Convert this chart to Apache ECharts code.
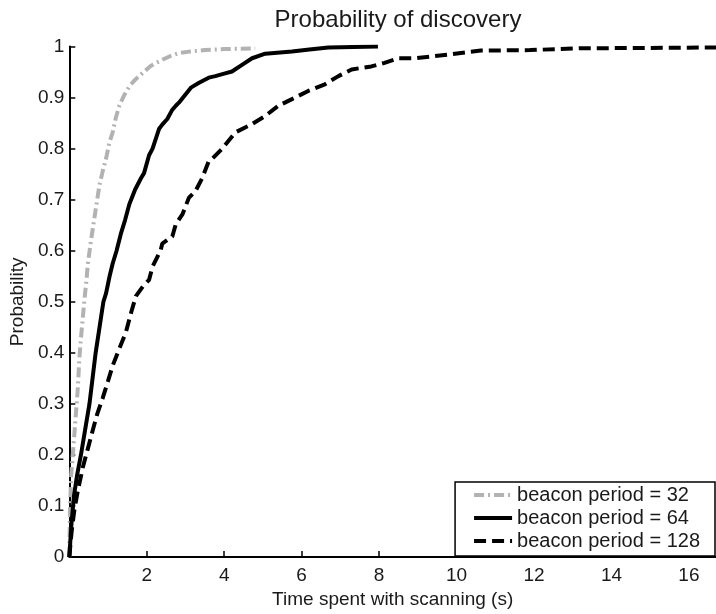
<!DOCTYPE html>
<html>
<head>
<meta charset="utf-8">
<script src="https://cdn.jsdelivr.net/npm/echarts@6/dist/echarts.min.js"></script>
<style>
html,body{margin:0;padding:0;background:#fff;}
#chart{width:716px;height:614px;}
</style>
</head>
<body>
<div id="chart"></div>
<script>
// ---- data ----
var seriesNames = ['beacon period = 32', 'beacon period = 64', 'beacon period = 128'];

var t32 = [0, 0.02, 0.05, 0.09, 0.13, 0.18, 0.22, 0.26, 0.30, 0.35, 0.39, 0.44, 0.48, 0.56, 0.65, 0.72, 0.78, 0.86, 0.95, 1.03, 1.12, 1.20, 1.29, 1.42, 1.55, 1.70, 1.89, 2.10, 2.40, 2.60, 2.83, 3.1, 3.5, 4.0, 4.8];
var p32 = [0, 0.1, 0.163, 0.2, 0.24, 0.29, 0.331, 0.39, 0.428, 0.47, 0.504, 0.54, 0.575, 0.62, 0.665, 0.70, 0.729, 0.755, 0.781, 0.81, 0.832, 0.86, 0.884, 0.905, 0.922, 0.935, 0.948, 0.962, 0.974, 0.981, 0.987, 0.99, 0.993, 0.995, 0.9965];

var t64 = [0, 0.05, 0.12, 0.2, 0.30, 0.41, 0.52, 0.60, 0.68, 0.78, 0.88, 0.95, 1.04, 1.12, 1.22, 1.33, 1.44, 1.55, 1.70, 1.85, 1.93, 2.06, 2.15, 2.32, 2.40, 2.53, 2.65, 2.75, 2.83, 3.0, 3.15, 3.35, 3.6, 3.77, 4.0, 4.20, 4.46, 4.72, 5.06, 5.75, 6.2, 6.69, 7.97];
var p64 = [0, 0.06, 0.12, 0.16, 0.2, 0.25, 0.3, 0.35, 0.4, 0.45, 0.5, 0.517, 0.55, 0.575, 0.6, 0.633, 0.66, 0.691, 0.72, 0.742, 0.752, 0.787, 0.80, 0.839, 0.847, 0.858, 0.875, 0.884, 0.890, 0.906, 0.92, 0.929, 0.939, 0.942, 0.947, 0.951, 0.964, 0.977, 0.986, 0.99, 0.994, 0.998, 1.0];

var t128 = [0, 0.06, 0.13, 0.22, 0.35, 0.47, 0.60, 0.72, 0.86, 1.0, 1.12, 1.3, 1.46, 1.60, 1.72, 1.90, 2.06, 2.15, 2.36, 2.40, 2.66, 2.75, 2.92, 3.09, 3.26, 3.43, 3.60, 3.69, 3.95, 4.29, 4.72, 5.06, 5.40, 5.75, 6.17, 6.60, 6.95, 7.29, 7.80, 8.14, 8.49, 8.92, 9.77, 10.63, 11.9, 13.2, 16.7];
var p128 = [0, 0.05, 0.092, 0.13, 0.176, 0.21, 0.247, 0.28, 0.311, 0.345, 0.375, 0.41, 0.44, 0.48, 0.511, 0.53, 0.543, 0.569, 0.601, 0.614, 0.628, 0.652, 0.671, 0.704, 0.717, 0.742, 0.775, 0.78, 0.80, 0.832, 0.848, 0.864, 0.884, 0.897, 0.913, 0.926, 0.942, 0.955, 0.961, 0.968, 0.977, 0.977, 0.984, 0.992, 0.993, 0.9965, 0.998];

var xTicks = [2, 4, 6, 8, 10, 12, 14, 16];
var yTicks = [0, 0.1, 0.2, 0.3, 0.4, 0.5, 0.6, 0.7, 0.8, 0.9, 1];

function zip(a, b) { return a.map(function (v, i) { return [v, b[i]]; }); }

var FONT = 'Liberation Sans, Arial, sans-serif';
var TXT = '#1a1a1a';

var chart = echarts.init(document.getElementById('chart'), null, {renderer: 'canvas'});
chart.setOption({
  animation: false,
  backgroundColor: '#fff',
  title: {
    text: 'Probability of discovery',
    left: 393, top: 3, textAlign: 'center',
    textStyle: {fontFamily: FONT, fontSize: 24, fontWeight: 'normal', color: TXT}
  },
  grid: {left: 66.5, right: 0, top: 46.5, bottom: 49.5, containLabel: false},
  xAxis: {
    type: 'value', min: 0, max: 16.7, interval: 2,
    name: 'Time spent with scanning (s)', nameLocation: 'middle', nameGap: 30,
    nameTextStyle: {fontFamily: FONT, fontSize: 19, color: TXT},
    axisLine: {lineStyle: {color: '#000', width: 2}},
    axisTick: {inside: true, length: 6, lineStyle: {color: '#000', width: 1.5}},
    axisLabel: {
      fontFamily: FONT, fontSize: 19, color: TXT, margin: 9,
      showMaxLabel: false,
      formatter: function (v) { return xTicks.indexOf(v) >= 0 ? String(v) : ''; }
    },
    splitLine: {show: false}
  },
  yAxis: {
    type: 'value', min: 0, max: 1, interval: 0.1,
    name: 'Probability', nameLocation: 'middle', nameGap: 37,
    nameTextStyle: {fontFamily: FONT, fontSize: 19, color: TXT},
    axisLine: {show: true, lineStyle: {color: '#000', width: 2}},
    axisTick: {show: true, inside: true, length: 6, lineStyle: {color: '#000', width: 1.5}},
    axisLabel: {
      fontFamily: FONT, fontSize: 19, color: TXT, margin: 5,
      formatter: function (v) {
        var r = Math.round(v * 10) / 10;
        return yTicks.indexOf(r) >= 0 ? String(r) : '';
      }
    },
    splitLine: {show: false}
  },
  legend: {
    orient: 'vertical', right: 1, top: 482,
    padding: [3, 15, 5, 17],
    itemWidth: 38, itemHeight: 20, itemGap: 3, itemTextGap: 12,
    borderColor: '#000', borderWidth: 1.5, backgroundColor: '#fff',
    itemStyle: {opacity: 0},
    lineStyle: {width: 4},
    textStyle: {fontFamily: FONT, fontSize: 20, color: TXT},
    data: seriesNames
  },
  series: [
    {
      name: seriesNames[0], type: 'line', data: zip(t32, p32),
      symbol: 'none', showSymbol: false, clip: true,
      lineStyle: {color: '#b2b2b2', width: 4, type: [10, 4, 2, 4]},
      itemStyle: {color: '#b2b2b2'}
    },
    {
      name: seriesNames[1], type: 'line', data: zip(t64, p64),
      symbol: 'none', showSymbol: false, clip: true,
      lineStyle: {color: '#000', width: 4, type: 'solid'},
      itemStyle: {color: '#000'}
    },
    {
      name: seriesNames[2], type: 'line', data: zip(t128, p128),
      symbol: 'none', showSymbol: false, clip: true,
      lineStyle: {color: '#000', width: 4, type: [12, 6]},
      itemStyle: {color: '#000'}
    }
  ]
});
</script>
</body>
</html>
